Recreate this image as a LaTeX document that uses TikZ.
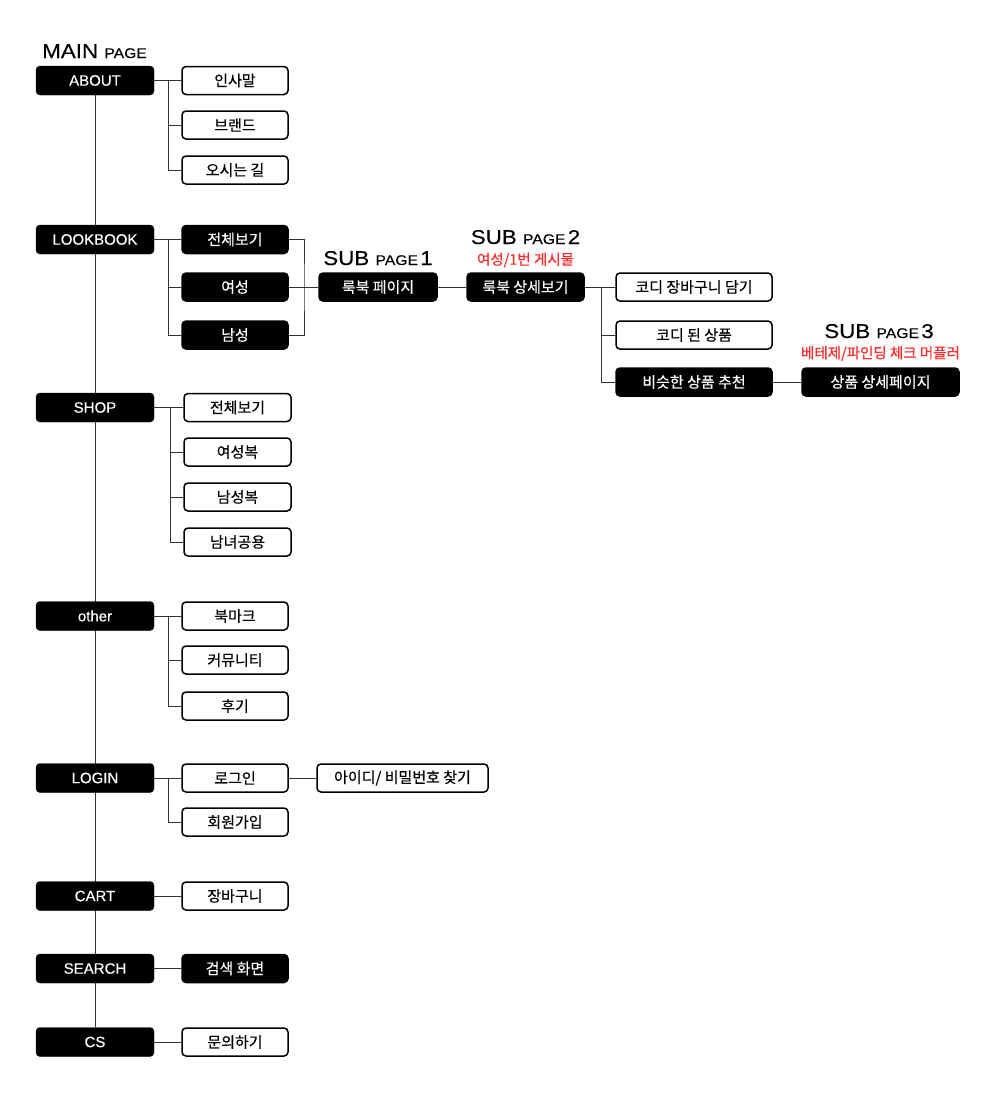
\documentclass[tikz,border=0pt]{standalone}
\usepackage{fontspec}
\setmainfont{Noto Sans CJK KR}[FakeBold=0.35]
\newfontfamily\latinf{Liberation Sans}[FakeBold=0.3]
\newfontfamily\hdrf[FakeStretch=1.12,FakeBold=0.15]{Liberation Sans}
\usetikzlibrary{backgrounds}
\definecolor{labred}{HTML}{FF2A2A}
\tikzset{
  mainbox/.style={rounded corners=4pt, fill=black, draw=black, text=white,
    minimum width=118pt, minimum height=29pt, inner sep=0pt,
    font=\latinf\fontsize{15}{18}\selectfont},
  subbox/.style={rounded corners=4pt, draw=black, line width=1.5pt, fill=white,
    minimum width=106pt, minimum height=28pt, inner sep=0pt,
    font=\fontsize{15}{18}\selectfont},
  subblack/.style={subbox, fill=black, text=white},
  conn/.style={draw=black!80, line width=1pt},
  hdr/.style={inner sep=0pt, anchor=base},
  redlbl/.style={inner sep=0pt, text=labred, font=\fontsize{14.5}{17}\selectfont}
}
\newcommand{\hdrtext}[2]{{\hdrf\fontsize{20}{24}\selectfont #1\ \fontsize{14}{17}\selectfont PAGE#2}}
\begin{document}
\begin{tikzpicture}[x=1pt,y=-1pt]
\useasboundingbox (0,0) rectangle (1000,1100);

% main column
\node[mainbox] (about) at (95,80.5) {ABOUT};
\node[mainbox] (lookbook) at (95,239.5) {LOOKBOOK};
\node[mainbox] (shop) at (95,407.5) {SHOP};
\node[mainbox] (other) at (95,616) {other};
\node[mainbox] (login) at (95,778) {LOGIN};
\node[mainbox] (cart) at (95,896) {CART};
\node[mainbox] (search) at (95,968.5) {SEARCH};
\node[mainbox] (cs) at (95,1042) {CS};

% headings
\node[hdr, anchor=base west] (mainlbl) at (42,58) {{\hdrf\fontsize{20}{24}\selectfont MAIN \fontsize{14}{17}\selectfont PAGE}};
\node[hdr] (sub1lbl) at (378,265) {\hdrtext{SUB}{\,\fontsize{20}{24}\selectfont 1}};
\node[hdr] (sub2lbl) at (525.5,244) {\hdrtext{SUB}{\,\fontsize{20}{24}\selectfont 2}};
\node[redlbl] (sub2red) at (525.5,260) {여성/1번 게시물};
\node[hdr] (sub3lbl) at (879,338) {\hdrtext{SUB}{\,\fontsize{20}{24}\selectfont 3}};
\node[redlbl] (sub3red) at (880.5,353.5) {베테제/파인딩 체크 머플러};

% ABOUT
\node[subbox] (a1) at (235,80.5) {인사말};
\node[subbox] (a2) at (235,125) {브랜드};
\node[subbox] (a3) at (235,170) {오시는 길};
% LOOKBOOK
\node[subblack] (l1) at (235,239.5) {전체보기};
\node[subblack] (l2) at (235,287) {여성};
\node[subblack] (l3) at (235,335) {남성};
\node[subblack, minimum width=118pt] (sp1) at (378,287) {룩북 페이지};
\node[subblack, minimum width=117pt] (sp2) at (525.5,287) {룩북 상세보기};
\node[subbox, minimum width=156pt] (d1) at (694,287) {코디 장바구니 담기};
\node[subbox, minimum width=156pt] (d2) at (694,335) {코디 된 상품};
\node[subblack, minimum width=156pt] (d3) at (694,382) {비슷한 상품 추천};
\node[subblack, minimum width=157pt] (sp3) at (880.5,382) {상품 상세페이지};
% SHOP
\node[subbox, minimum width=107pt] (s1) at (237.5,407.5) {전체보기};
\node[subbox, minimum width=107pt] (s2) at (237.5,452) {여성복};
\node[subbox, minimum width=107pt] (s3) at (237.5,497) {남성복};
\node[subbox, minimum width=107pt] (s4) at (237.5,542) {남녀공용};
% other
\node[subbox] (o1) at (235,616) {북마크};
\node[subbox] (o2) at (235,660) {커뮤니티};
\node[subbox] (o3) at (235,706) {후기};
% LOGIN
\node[subbox] (g1) at (235,778) {로그인};
\node[subbox] (g2) at (235,822) {회원가입};
\node[subbox, minimum width=171pt] (g3) at (402.5,778) {아이디/ 비밀번호 찾기};
% CART, SEARCH, CS
\node[subbox] (c1) at (235,896) {장바구니};
\node[subblack] (se1) at (235,968.5) {검색 화면};
\node[subbox] (q1) at (235,1042) {문의하기};

\coordinate (ab) at (168,80.5);
\coordinate (lb) at (168,239.5);
\coordinate (lr) at (304,287);
\coordinate (dd) at (601,287);
\coordinate (sb) at (170,407.5);
\coordinate (ob) at (168,616);
\coordinate (gb) at (168,778);

\begin{scope}[on background layer]
\fill[white] (0,0) rectangle (1000,1100);
\draw[conn] (about.south) -- (cs.north);
\draw[conn] (about.east) -- (a1.west);
\draw[conn] (ab) |- (a2.west);
\draw[conn] (ab) |- (a3.west);
\draw[conn] (lookbook.east) -- (l1.west);
\draw[conn] (lb) |- (l2.west);
\draw[conn] (lb) |- (l3.west);
\draw[conn] (l1.east) -| (lr) |- (l3.east);
\draw[conn] (l2.east) -- (sp1.west);
\draw[conn] (sp1.east) -- (sp2.west);
\draw[conn] (sp2.east) -- (d1.west);
\draw[conn] (dd) |- (d2.west);
\draw[conn] (dd) |- (d3.west);
\draw[conn] (d3.east) -- (sp3.west);
\draw[conn] (shop.east) -- (s1.west);
\draw[conn] (sb) |- (s2.west);
\draw[conn] (sb) |- (s3.west);
\draw[conn] (sb) |- (s4.west);
\draw[conn] (other.east) -- (o1.west);
\draw[conn] (ob) |- (o2.west);
\draw[conn] (ob) |- (o3.west);
\draw[conn] (login.east) -- (g1.west);
\draw[conn] (gb) |- (g2.west);
\draw[conn] (g1.east) -- (g3.west);
\draw[conn] (cart.east) -- (c1.west);
\draw[conn] (search.east) -- (se1.west);
\draw[conn] (cs.east) -- (q1.west);
\end{scope}
\end{tikzpicture}
\end{document}
